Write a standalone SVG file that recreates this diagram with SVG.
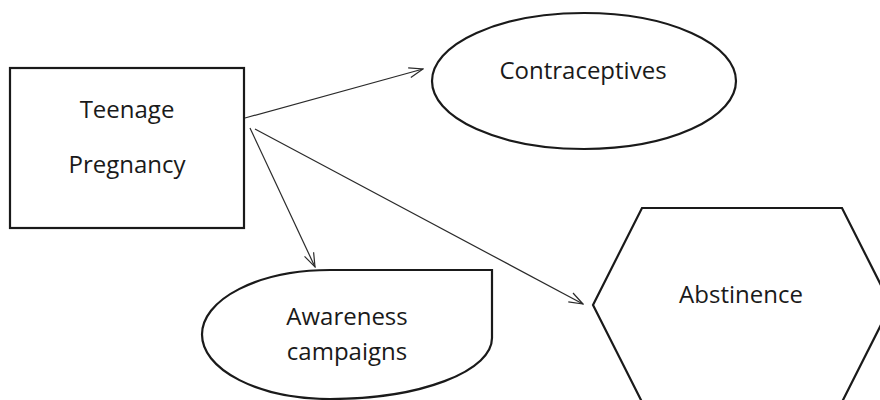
<svg xmlns="http://www.w3.org/2000/svg" width="880" height="400" viewBox="0 0 880 400">
<style>
.shape{fill:#fff;stroke:#1a1a1a;stroke-width:2.2}
.lbl{font-family:"Open Sans","Liberation Sans",sans-serif;font-size:24px;fill:#1a1a1a;text-anchor:middle}
.conn{stroke:#2a2a2a;stroke-width:1.2;fill:none;marker-end:url(#arr)}
</style>
<defs>
<marker id="arr" markerUnits="userSpaceOnUse" markerWidth="16" markerHeight="12" viewBox="0 0 16 12" refX="15" refY="6" orient="auto">
<path d="M1,1 L15,6 L1,11" fill="none" stroke="#2a2a2a" stroke-width="1.2"/>
</marker>
</defs>
<rect width="880" height="400" fill="#fff"/>
<g id="connectors">
<line class="conn" x1="245" y1="118" x2="423" y2="69"/>
<line class="conn" x1="250" y1="128" x2="315" y2="267"/>
<line class="conn" x1="255" y1="129" x2="583" y2="304"/>
</g>
<g id="teenage-pregnancy">
<rect class="shape" x="10" y="68" width="234" height="160"/>
<text class="lbl" x="127" y="118">Teenage</text>
<text class="lbl" x="127" y="173">Pregnancy</text>
</g>
<g id="contraceptives">
<ellipse class="shape" cx="584" cy="81" rx="152" ry="68"/>
<text class="lbl" x="583" y="79">Contraceptives</text>
</g>
<g id="awareness-campaigns">
<path class="shape" d="M330,270 L492,270 L492,338 A162,61 0 0 1 330,399 A128,64.5 0 0 1 330,270 Z"/>
<text class="lbl" x="347" y="325">Awareness</text>
<text class="lbl" x="347" y="360">campaigns</text>
</g>
<g id="abstinence">
<polygon class="shape" points="593,305 642,208 842,208 891,305 842,402 642,402"/>
<text class="lbl" x="741" y="303">Abstinence</text>
</g>
</svg>
